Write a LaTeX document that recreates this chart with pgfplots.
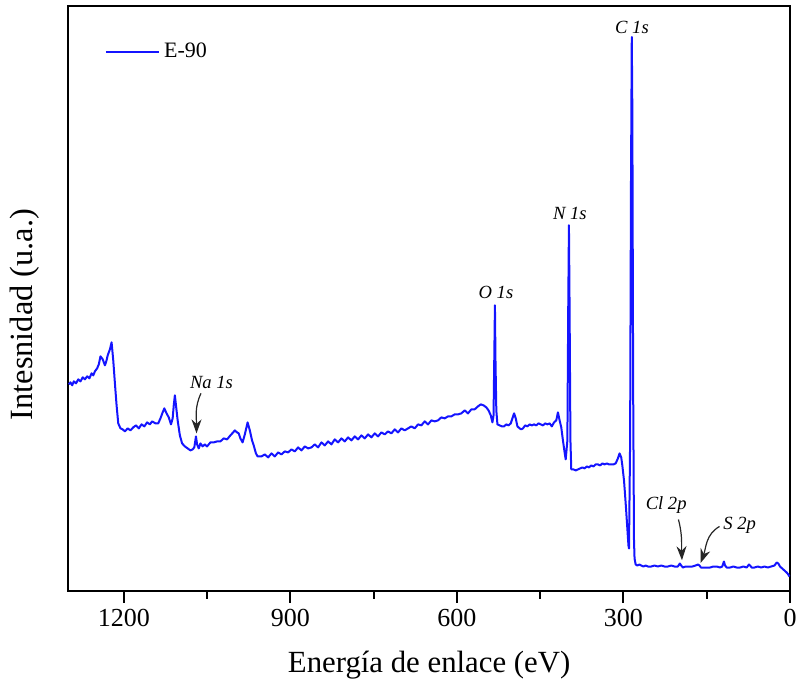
\documentclass[border=0pt]{standalone}
\usepackage{pgfplots}
\pgfplotsset{compat=1.18}
\usepackage{pgfplotstable}
\usepackage{fontspec}
\setmainfont{Liberation Serif}
\usetikzlibrary{arrows.meta}

\pgfplotstableread{
ev I
1299 206
1296 208
1293 205
1290 209
1286 207
1282 211
1278 209
1274 213
1270 211
1266 214
1262 212
1258 217
1255 215
1252 219
1248 222
1245 226
1242 234
1238 231
1234 225
1231 230
1229 235
1225 241
1222 248
1219 230
1216 207
1213 185
1210 167
1206 162
1202 161
1198 159
1193 162
1188 160
1183 163
1178 165
1173 162
1168 166
1163 164
1158 168
1153 166
1149 169
1143 167
1138 167
1134 172
1130 178
1127 182
1123 177
1119 173
1115 166
1112 172
1110 185
1108 195
1106 185
1103 170
1099 155
1095 147
1090 144
1085 142
1080 140
1076 141
1073 143
1070 154
1068 146
1065 142
1062 147
1058 144
1054 146
1050 144
1044 148
1038 148
1032 149
1026 149
1020 152
1014 151
1008 155
1003 158
1000 160
996 158
993 157
990 152
986 148
982 156
977 168
973 160
969 150
966 145
962 137
959 134
952 134
946 136
940 133
934 137
928 134
922 138
916 136
910 139
904 138
898 141
892 139
886 143
880 140
874 144
868 142
862 143
856 146
850 143
844 148
838 145
832 149
826 146
820 151
814 148
808 152
802 149
796 153
790 150
784 154
778 151
772 155
766 152
760 156
754 153
748 157
742 154
736 158
730 156
724 159
718 157
712 161
706 158
700 162
694 160
688 162
682 164
676 162
670 166
664 165
658 169
652 166
646 170
640 169
634 170
628 173
622 172
616 174
610 174
604 176
598 176
592 177
586 180
580 177
574 181
568 181
562 184
557 186
552 185
547 183
543 180
539 175
536 168
534 175
532.5 240
531.5 285
530.5 230
529 180
527 166
523 165
519 164
515 164
511 166
507 165
503 167
500 172
497 177
494 172
491 164
487 162
484 161
481 162
477 165
473 164
469 166
465 165
461 166
457 165
453 167
449 166
445 165
441 167
437 166
433 167
429 164
425 168
421 170
418 178
415 170
412 163
409 150
406 138
404 131
401 150
399.5 280
398.2 365
397 280
395.5 150
394 121
390 121
386 120
382 121
378 122
374 123
370 122
366 124
362 123
358 125
354 124
350 126
346 126
342 125
338 127
334 126
330 127
326 126
322 126
318 126
314 127
310 132
307 137
304 133
302 125
299 110
297 95
295.5 83
293 62
291 45
290 42
288 150
286.5 400
285 553
284 480
282.5 200
281 50
280 32
278 26
275 25
271 26
268 25
264 24
260 25
256 24
250 24
244 25
238 24
232 25
226 24
220 24
214 25
208 24
202 24
198.5 27
196 25
193 23
188 24
182 24
176 24
170 25
166 26
163 25
160.5 23
156 23
150 23
144 23
138 24
132 24
126 23
122 24
119 29
117 25
114 23
108 23
102 24
96 23
90 23
84 24
78 23
74 26
72 25
69 23
64 23
58 24
52 23
46 24
40 23
34 24
28 25
24 28
21 27
18 24
14 22
10 20
6 18
3 16
1 14
}\spectrum

\begin{document}
\begin{tikzpicture}
\begin{axis}[name=ax,
  scale only axis, width=360.9pt, height=292.3pt,
  x dir=reverse, xmin=0, xmax=1300, ymin=0, ymax=584,
  xtick={0,300,600,900,1200}, minor xtick={150,450,750,1050},
  ytick=\empty,
  tick align=outside, xtick pos=bottom,
  major tick length=6pt, minor tick length=4pt,
  axis line style={line width=1pt},
  every tick/.style={black, line width=1pt},
  tick label style={font=\fontsize{13}{15}\selectfont},
  /pgf/number format/assume math mode=true,
  /pgf/number format/1000 sep={},
  xlabel={Energía de enlace (eV)}, ylabel={Intesnidad (u.a.)},
  xlabel style={at={(axis description cs:0.5,-0.127)}, anchor=center, font=\fontsize{15.4}{18}\selectfont},
  ylabel style={at={(axis description cs:-0.06,0.472)}, anchor=center, font=\fontsize{16.2}{19}\selectfont},
  legend style={at={(axis description cs:0.05,0.922)}, anchor=west, draw=none, fill=none, inner sep=0pt, font=\fontsize{11}{13}\selectfont},
  legend image code/.code={\draw[#1] (0pt,0pt) -- (26.7pt,0pt);},
  clip=false,
]
\addplot[color={rgb,255:red,20;green,20;blue,255}, line width=1pt, line join=round] table[x=ev, y=I] {\spectrum};
\addlegendentry{E-90}

\node[font=\fontsize{9.3}{11}\itshape] at (axis cs:284.6,563) {C 1s};
\node[font=\fontsize{9.3}{11}\itshape] at (axis cs:396.5,377) {N 1s};
\node[font=\fontsize{9.3}{11}\itshape] at (axis cs:529.6,298) {O 1s};
\node[font=\fontsize{9.3}{11}\itshape] at (axis cs:1042,208) {Na 1s};
\node[font=\fontsize{9.3}{11}\itshape] at (axis cs:223,85.4) {Cl 2p};
\node[font=\fontsize{9.3}{11}\itshape] at (axis cs:90.8,65.6) {S 2p};

\draw[-{Stealth[length=7pt,width=5pt]}, black!85, line width=0.6pt] (axis cs:1061,197) to[out=-115,in=90] (axis cs:1069,157);
\draw[-{Stealth[length=7pt,width=5pt]}, black!85, line width=0.6pt] (axis cs:201,71) to[out=-75,in=92] (axis cs:194.6,30.3);
\draw[-{Stealth[length=7pt,width=5pt]}, black!85, line width=0.6pt] (axis cs:127,64) to[out=-150,in=70] (axis cs:160.9,27.6);
\end{axis}
\pgfresetboundingbox
\useasboundingbox ([xshift=-34.15pt,yshift=-50.15pt]ax.south west) rectangle ([xshift=3pt,yshift=3pt]ax.north east);
\end{tikzpicture}
\end{document}
